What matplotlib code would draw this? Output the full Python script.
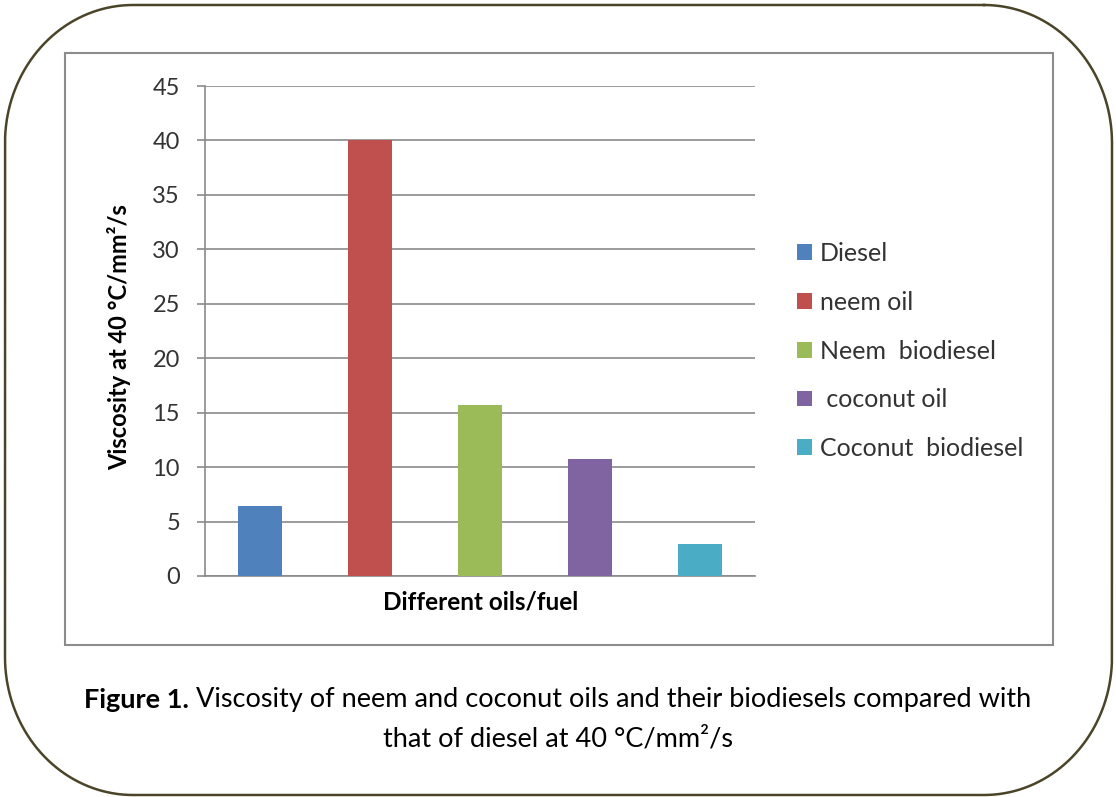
import numpy as np
import matplotlib
matplotlib.use("Agg")
import matplotlib.pyplot as plt
from matplotlib.lines import Line2D
from matplotlib.patches import Rectangle

plt.rcParams['font.family'] = ['Lato', 'DejaVu Sans']

# viscosity at 40 degC (mm2/s)
fuels = ['Diesel', 'neem oil', 'Neem  biodiesel', ' coconut oil', 'Coconut  biodiesel']
viscosity = [6.4, 40, 15.7, 10.7, 2.9]
colors = ['#4F81BD', '#C0504D', '#9BBB59', '#8064A2', '#4BACC6']
y_ticks = [0, 5, 10, 15, 20, 25, 30, 35, 40, 45]

W, H = 1116, 797
fig = plt.figure(figsize=(W / 100, H / 100), dpi=100)


def rounded_outline(x0, y0, x1, y1, rx, ry, n=40):
    """Closed outline of a rounded box, pixel coords with y downwards."""
    t = np.linspace(0, np.pi / 2, n)
    corners = [
        (x1 - rx, y0 + ry, -np.pi / 2),   # top right
        (x1 - rx, y1 - ry, 0.0),          # bottom right
        (x0 + rx, y1 - ry, np.pi / 2),    # bottom left
        (x0 + rx, y0 + ry, np.pi),        # top left
    ]
    xs, ys = [], []
    for cx, cy, a0 in corners:
        xs.extend(cx + rx * np.cos(a0 + t))
        ys.extend(cy + ry * np.sin(a0 + t))
    xs.append(xs[0])
    ys.append(ys[0])
    return np.array(xs), np.array(ys)


bx, by = rounded_outline(5, 5, 1112, 795, 128, 138)
fig.add_artist(Line2D(bx / W, 1 - by / H, transform=fig.transFigure,
                      color='#4a4428', lw=1.8, zorder=0))

# chart area frame
fig.patches.append(Rectangle(
    (65 / W, 1 - 645 / H), (1053 - 65) / W, (645 - 53) / H,
    transform=fig.transFigure, fill=False,
    edgecolor='#8c8c8c', lw=1.5, zorder=0
))

ax = fig.add_axes([205 / W, 1 - 576 / H, 550 / W, 490 / H])
for i, (name, val, c) in enumerate(zip(fuels, viscosity, colors)):
    ax.bar(i, val, width=0.4, color=c, label=name, zorder=3)

ax.set_xlim(-0.5, 4.5)
ax.set_ylim(0, 45)
ax.set_yticks(y_ticks)
ax.set_xticks([])
ax.grid(axis='y', color='#8a8a8a', lw=1.2, zorder=0)
for s in ['top', 'right']:
    ax.spines[s].set_visible(False)
for s in ['left', 'bottom']:
    ax.spines[s].set_color('#8a8a8a')
    ax.spines[s].set_linewidth(1.2)
ax.tick_params(axis='y', length=6, width=1.2, color='#8a8a8a', labelsize=17,
               labelcolor='#333333', pad=12)

ax.set_ylabel('Viscosity at 40 °C/mm²/s', fontsize=17, fontweight='bold')
ax.yaxis.set_label_coords((131 - 205) / 550, (576 - 337) / 490)
ax.set_xlabel('Different oils/fuel', fontsize=17.5, fontweight='bold')
ax.xaxis.set_label_coords((481 - 205) / 550, (576 - 590) / 490)

ax.legend(loc='center left', bbox_to_anchor=((797 - 205) / 550, (576 - 351) / 490),
          frameon=False, borderpad=0, borderaxespad=0,
          fontsize=18, handlelength=0.6, handleheight=0.6,
          handletextpad=0.3, labelspacing=1.03, labelcolor='#333333')

# caption, bold lead-in followed by regular text
renderer = fig.canvas.get_renderer()
cap_size = 19.5
lead = 'Figure 1.'
rest = ' Viscosity of neem and coconut oils and their biodiesels compared with'
t1 = fig.text(0, 1 - 700 / H, lead, fontsize=cap_size, fontweight='bold',
              va='center', ha='left')
t2 = fig.text(0, 1 - 700 / H, rest, fontsize=cap_size, va='center', ha='left')
w1 = t1.get_window_extent(renderer).width
w2 = t2.get_window_extent(renderer).width
x0 = (W - w1 - w2) / 2
t1.set_x(x0 / W)
t2.set_x((x0 + w1) / W)
fig.text(0.5, 1 - 739 / H, 'that of diesel at 40 °C/mm²/s', fontsize=cap_size,
         va='center', ha='center')

fig.savefig('out.png', dpi=100)
